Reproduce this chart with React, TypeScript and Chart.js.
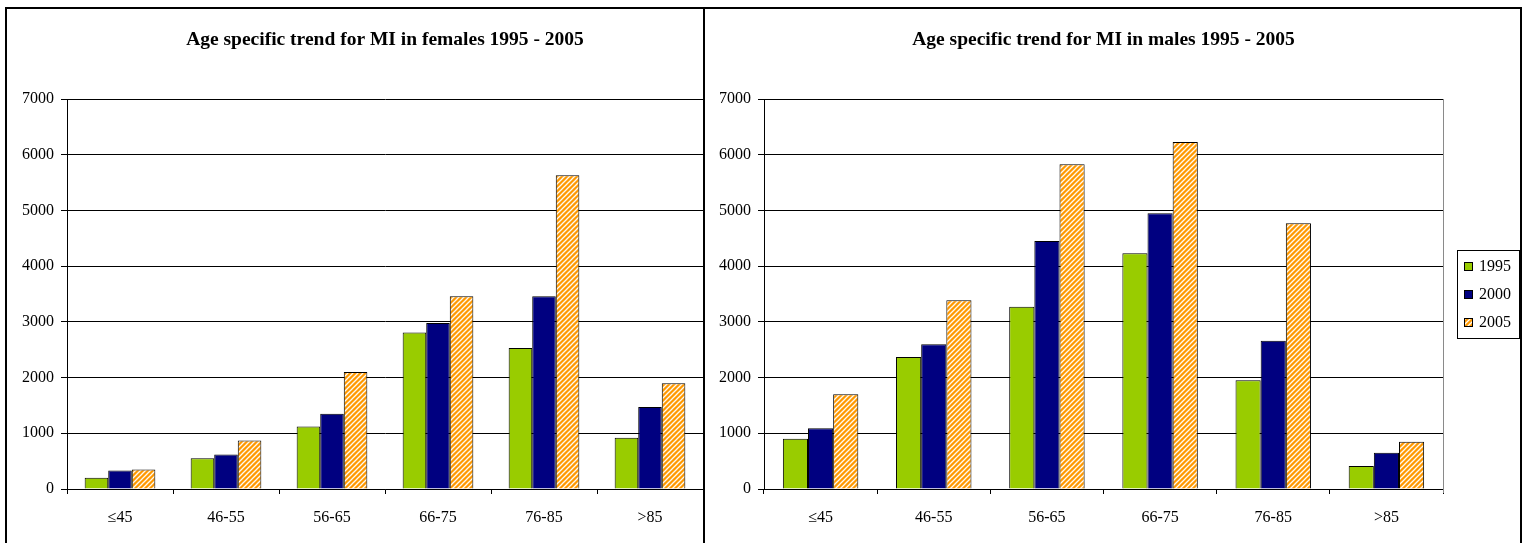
import React, { useEffect, useRef } from 'react';
import { Chart, registerables } from 'chart.js';

Chart.register(...registerables);

const categories = ['≤45', '46-55', '56-65', '66-75', '76-85', '>85'];
const seriesLabels = ['1995', '2000', '2005'];

const females1995 = [200, 550, 1120, 2810, 2530, 920];
const females2000 = [330, 620, 1350, 2980, 3460, 1470];
const females2005 = [350, 870, 2100, 3460, 5630, 1900];

const males1995 = [900, 2370, 3270, 4230, 1950, 415];
const males2000 = [1090, 2600, 4450, 4950, 2660, 650];
const males2005 = [1700, 3390, 5830, 6230, 4770, 850];

const yMin = 0;
const yMax = 7000;
const yStep = 1000;

const femaleTitle = 'Age specific trend for MI in females 1995 - 2005';
const maleTitle = 'Age specific trend for MI in males 1995 - 2005';

const GREEN = '#99CC00';
const NAVY = '#000080';
const ORANGE = '#FF9900';
const SERIF = '"Liberation Serif", "Times New Roman", serif';

function makePattern(): CanvasPattern | string {
  const c = document.createElement('canvas');
  const s = 5;
  c.width = s;
  c.height = s;
  const g = c.getContext('2d');
  if (!g) return ORANGE;
  g.fillStyle = ORANGE;
  g.fillRect(0, 0, s, s);
  g.strokeStyle = 'rgba(255,255,255,0.95)';
  g.lineWidth = 1.3;
  g.beginPath();
  g.moveTo(-1, s + 1);
  g.lineTo(s + 1, -1);
  g.moveTo(-1, 1);
  g.lineTo(1, -1);
  g.moveTo(s - 1, s + 1);
  g.lineTo(s + 1, s - 1);
  g.stroke();
  const p = g.createPattern(c, 'repeat');
  return p || ORANGE;
}

const boxLegendPlugin = {
  id: 'boxLegend',
  afterDraw(chart: any) {
    const { ctx, chartArea } = chart;
    ctx.save();
    const rx = Math.round(chartArea.right) + 0.5;
    ctx.strokeStyle = '#8a8a8a';
    ctx.lineWidth = 1;
    ctx.beginPath();
    ctx.moveTo(rx, chartArea.top);
    ctx.lineTo(rx, chartArea.bottom + 4);
    ctx.stroke();

    const boxLeft = Math.round(chartArea.right) + 14;
    const boxW = 62;
    const boxH = 88;
    const cy = (chartArea.top + chartArea.bottom) / 2;
    const boxTop = Math.round(cy - boxH / 2);
    ctx.strokeStyle = '#000';
    ctx.strokeRect(boxLeft + 0.5, boxTop + 0.5, boxW, boxH);
    ctx.font = `16px ${SERIF}`;
    ctx.textBaseline = 'middle';
    ctx.textAlign = 'left';
    chart.data.datasets.forEach((ds: any, i: number) => {
      const y = Math.round(cy + (i - 1) * 28);
      ctx.fillStyle = ds.backgroundColor;
      ctx.fillRect(boxLeft + 7, y - 4, 9, 9);
      ctx.strokeStyle = '#000';
      ctx.strokeRect(boxLeft + 7.5, y - 3.5, 8, 8);
      ctx.fillStyle = '#000';
      ctx.fillText(ds.label, boxLeft + 22, y + 1);
    });
    ctx.restore();
  },
};

type PanelProps = {
  title: string;
  series: number[][];
  left: number;
  width: number;
  yAxisWidth: number;
  rightPad: number;
  withLegend: boolean;
};

function BarPanel({ title, series, left, width, yAxisWidth, rightPad, withLegend }: PanelProps) {
  const ref = useRef<HTMLCanvasElement>(null);
  const height = 534;
  useEffect(() => {
    const canvas = ref.current;
    if (!canvas) return;
    const pattern = makePattern();
    const fills = [GREEN, NAVY, pattern];
    const tickFont = { family: SERIF, size: 16 };
    const chart = new Chart(canvas, {
      type: 'bar',
      data: {
        labels: categories,
        datasets: series.map((d, i) => ({
          label: seriesLabels[i],
          data: d,
          backgroundColor: fills[i] as any,
          borderColor: '#000',
          borderWidth: 1,
          categoryPercentage: 2 / 3,
          barPercentage: 1,
        })),
      },
      options: {
        responsive: false,
        animation: false,
        layout: { padding: { left: 0, top: 0, bottom: 0, right: rightPad } },
        plugins: {
          legend: { display: false },
          tooltip: { enabled: false },
          title: {
            display: true,
            text: title,
            fullSize: false,
            color: '#000',
            font: { family: SERIF, size: 19.5, weight: 'bold' },
            padding: { top: 19, bottom: 47.6 },
          },
        },
        scales: {
          x: {
            grid: { offset: true, drawOnChartArea: false, tickLength: 5, color: '#000' },
            border: { display: true, color: '#000' },
            ticks: { font: tickFont, color: '#000', padding: 14, maxRotation: 0 },
            afterFit: (s: any) => {
              s.height = 54;
            },
          },
          y: {
            min: yMin,
            max: yMax,
            ticks: {
              stepSize: yStep,
              font: tickFont,
              color: '#000',
              padding: 7,
              callback: (v: any) => String(v),
            },
            grid: { color: '#000', tickLength: 6 },
            border: { display: true, color: '#000' },
            afterFit: (s: any) => {
              s.width = yAxisWidth;
            },
          },
        },
      } as any,
      plugins: withLegend ? [boxLegendPlugin] : [],
    });
    return () => chart.destroy();
  }, []);
  return (
    <canvas
      ref={ref}
      width={width}
      height={height}
      style={{ position: 'absolute', left, top: 9, width, height, display: 'block' }}
    />
  );
}

export default function App() {
  return (
    <div style={{ position: 'absolute', left: 0, top: 0, width: 1524, height: 543, overflow: 'hidden', background: '#fff' }}>
      <div
        style={{
          position: 'absolute',
          left: 5,
          top: 7,
          width: 1517,
          height: 536,
          boxSizing: 'border-box',
          borderTop: '2px solid #000',
          borderLeft: '2px solid #000',
          borderRight: '2px solid #000',
        }}
      />
      <div style={{ position: 'absolute', left: 703, top: 7, width: 2, height: 536, background: '#000' }} />
      <BarPanel
        title={femaleTitle}
        series={[females1995, females2000, females2005]}
        left={7}
        width={696}
        yAxisWidth={60}
        rightPad={0}
        withLegend={false}
      />
      <BarPanel
        title={maleTitle}
        series={[males1995, males2000, males2005]}
        left={705}
        width={815}
        yAxisWidth={59}
        rightPad={77}
        withLegend={true}
      />
    </div>
  );
}
